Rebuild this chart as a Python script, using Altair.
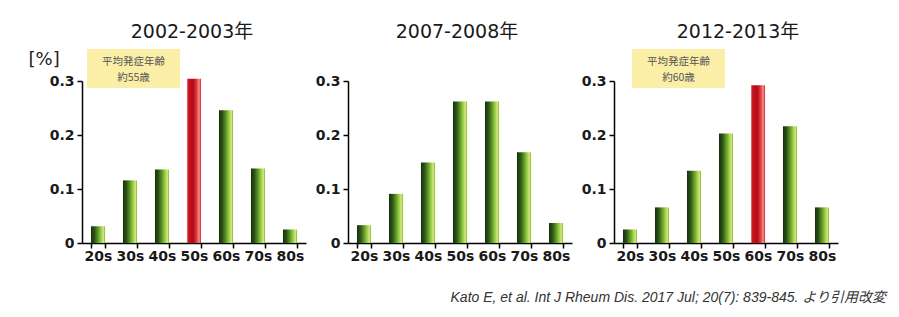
import altair as alt
import pandas as pd

ages = ["20s", "30s", "40s", "50s", "60s", "70s", "80s"]
periods = ["2002-2003年", "2007-2008年", "2012-2013年"]
v2002 = [0.031, 0.116, 0.136, 0.304, 0.246, 0.138, 0.025]
v2007 = [0.033, 0.091, 0.149, 0.262, 0.262, 0.168, 0.037]
v2012 = [0.025, 0.066, 0.134, 0.203, 0.292, 0.216, 0.066]
series = [v2002, v2007, v2012]
highlight = ["50s", None, "60s"]
note_line1 = ["平均発症年齢", None, "平均発症年齢"]
note_line2 = ["約55歳", None, "約60歳"]
y_ticks = [0, 0.1, 0.2, 0.3]
unit_label = "[%]"
citation = "Kato E, et al. Int J Rheum Dis. 2017 Jul; 20(7): 839-845. より引用改変"

W, H = 224, 162
title_dx = [-2, -3, 12]
note_x = [5, None, 18]

green_grad = alt.LinearGradient(
    gradient="linear", x1=0, x2=1, y1=0, y2=0,
    stops=[
        alt.GradientStop(color="#1a2e0e", offset=0),
        alt.GradientStop(color="#2c5416", offset=0.25),
        alt.GradientStop(color="#5a9a26", offset=0.5),
        alt.GradientStop(color="#a6d04c", offset=0.74),
        alt.GradientStop(color="#d2ea7a", offset=0.88),
        alt.GradientStop(color="#86b03a", offset=1),
    ],
)
red_grad = alt.LinearGradient(
    gradient="linear", x1=0, x2=1, y1=0, y2=0,
    stops=[
        alt.GradientStop(color="#ee8080", offset=0),
        alt.GradientStop(color="#c4101c", offset=0.12),
        alt.GradientStop(color="#b40c18", offset=0.45),
        alt.GradientStop(color="#e44444", offset=0.72),
        alt.GradientStop(color="#f49494", offset=0.86),
        alt.GradientStop(color="#d42028", offset=1),
    ],
)

FONT = "DejaVu Sans, Noto Sans CJK JP"


def panel(i):
    df = pd.DataFrame({
        "age": ages,
        "value": series[i],
        "hl": [a == highlight[i] for a in ages],
    })
    x = alt.X(
        "age:N", sort=ages,
        scale=alt.Scale(paddingInner=0.56, paddingOuter=0.28),
        axis=alt.Axis(title=None, labelAngle=0, tickBand="extent",
                      tickSize=5, labelPadding=1),
    )
    yaxis_kwargs = dict(values=y_ticks, tickSize=5, labelPadding=3,
                        labelExpr="datum.value == 0 ? '0' : format(datum.value, '.1f')")
    if i == 0:
        yaxis_kwargs.update(title=unit_label, titleAngle=0, titleX=-54, titleY=-17,
                            titleAlign="left", titleBaseline="alphabetic",
                            titleFont=FONT, titleFontSize=18, titleFontWeight="normal",
                            titleColor="#222")
    else:
        yaxis_kwargs.update(title=None)
    y = alt.Y("value:Q", scale=alt.Scale(domain=[0, 0.3], nice=False),
              axis=alt.Axis(**yaxis_kwargs))
    base = alt.Chart(df)
    green = base.transform_filter("!datum.hl").mark_bar(color=green_grad).encode(x=x, y=y)
    red = base.transform_filter("datum.hl").mark_bar(color=red_grad).encode(x=x, y=y)
    layers = [green, red]

    title = alt.Chart(pd.DataFrame({"t": [periods[i]]})).mark_text(
        font=FONT, fontSize=19, align="center", baseline="alphabetic", color="#1a1a1a"
    ).encode(text="t:N", x=alt.value(W / 2 + title_dx[i]), y=alt.value(-43))
    layers.append(title)

    if note_line1[i] is not None:
        nd = pd.DataFrame({"a": [note_line1[i]], "b": [note_line2[i]]})
        box = alt.Chart(nd).mark_rect(color="#fbefa8").encode(
            x=alt.value(note_x[i]), x2=alt.value(note_x[i] + 93),
            y=alt.value(-32), y2=alt.value(7))
        t1 = alt.Chart(nd).mark_text(
            font="Noto Sans CJK JP", fontSize=10.5, align="center", baseline="middle",
            color="#555"
        ).encode(text="a:N", x=alt.value(note_x[i] + 46.5), y=alt.value(-19))
        t2 = alt.Chart(nd).mark_text(
            font="Noto Sans CJK JP", fontSize=10.5, align="center", baseline="middle",
            color="#555"
        ).encode(text="b:N", x=alt.value(note_x[i] + 46.5), y=alt.value(-3))
        layers = [box, t1, t2] + layers

    if i == 2:
        cit = alt.Chart(pd.DataFrame({"t": [citation]})).mark_text(
            font="Liberation Sans, Noto Sans CJK JP", fontSize=14, fontStyle="italic",
            align="right", baseline="alphabetic", color="#333"
        ).encode(text="t:N", x=alt.value(272), y=alt.value(221))
        layers.append(cit)

    return alt.layer(*layers).properties(width=W, height=H)


chart = alt.hconcat(panel(0), panel(1), panel(2), spacing=42, bounds="flush").properties(
    padding={"left": 20, "top": 15, "right": 5, "bottom": 5},
    background="white",
).configure_view(stroke=None).configure_axis(
    grid=False,
    domainColor="black", domainWidth=1.5,
    tickColor="black", tickWidth=1.5,
    labelFont="DejaVu Sans", labelFontSize=14, labelFontWeight="bold", labelColor="#1a1a1a",
)

chart.save("out.html", embed_options={"renderer": "svg", "actions": False})
